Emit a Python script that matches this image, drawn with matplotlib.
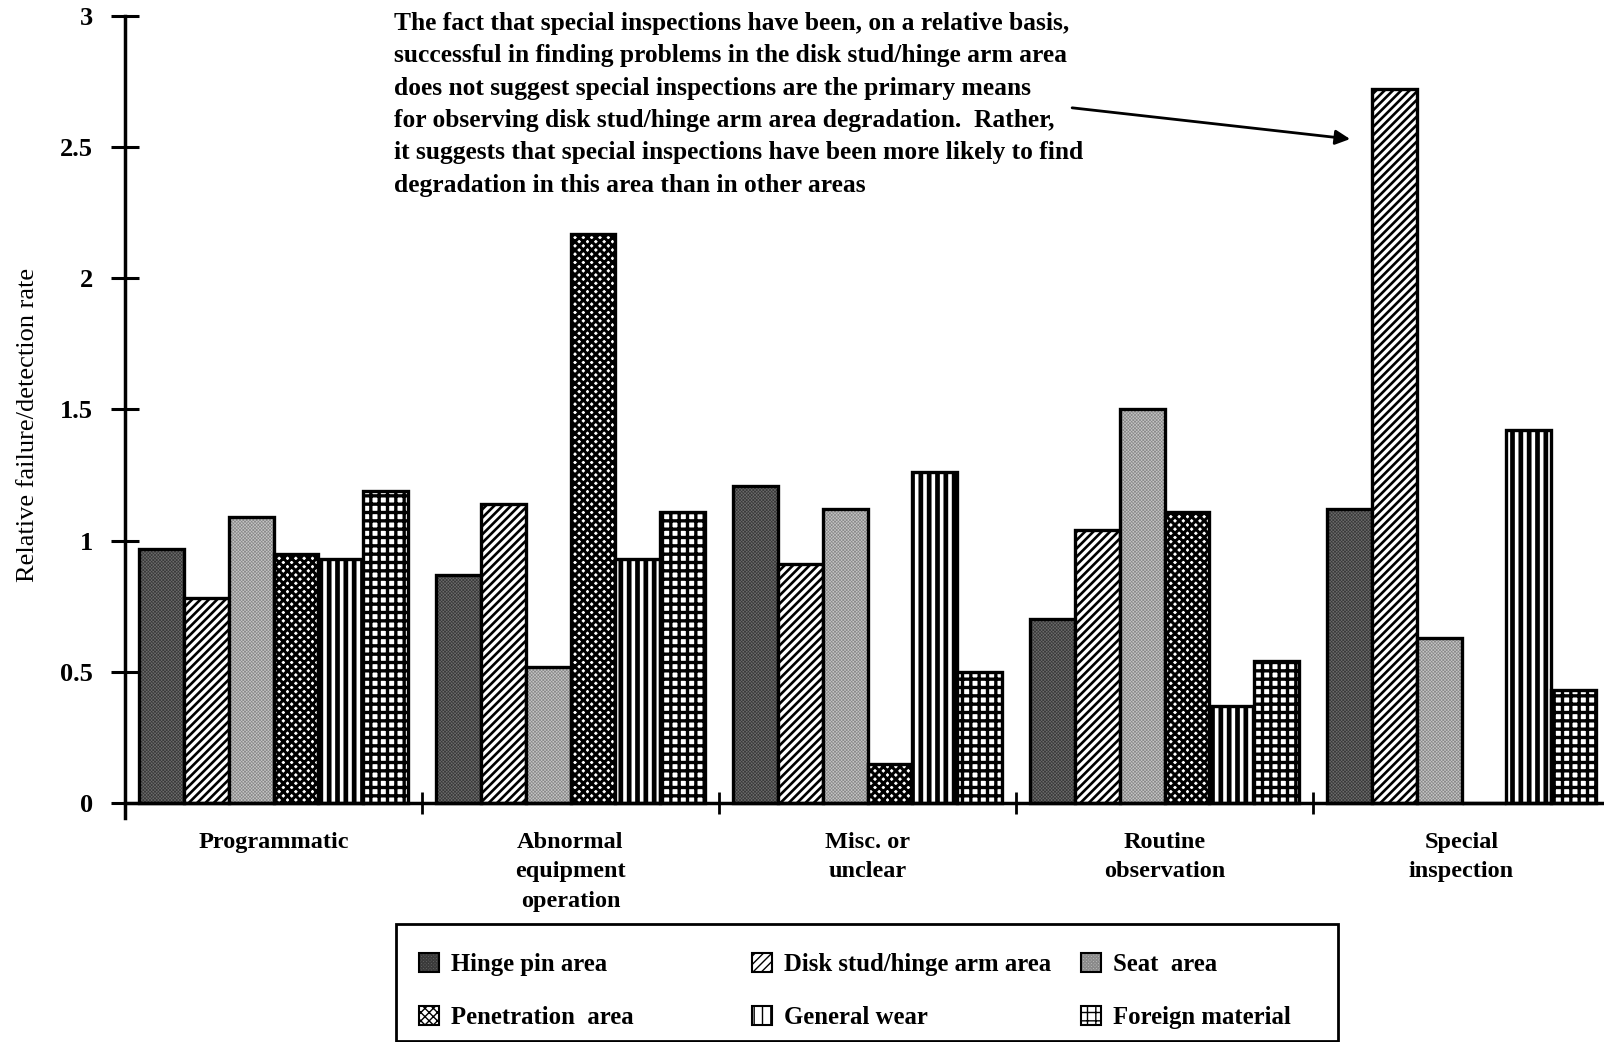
import matplotlib
matplotlib.use("Agg")
import matplotlib.pyplot as plt
from matplotlib.patches import Patch, Rectangle
import numpy as np

# -----------------------------
# Data
# -----------------------------
causes = ["Programmatic", "Abnormal\nequipment\noperation", "Misc. or\nunclear",
          "Routine\nobservation", "Special\ninspection"]
areas = ["Hinge pin area", "Disk stud/hinge arm area", "Seat  area",
         "Penetration  area", "General wear", "Foreign material"]

hinge_pin = [0.97, 0.87, 1.21, 0.70, 1.12]
disk_stud = [0.78, 1.14, 0.91, 1.04, 2.72]
seat_area = [1.09, 0.52, 1.12, 1.50, 0.63]
penetration = [0.95, 2.17, 0.15, 1.11, 0.0]
general_wear = [0.93, 0.93, 1.26, 0.37, 1.42]
foreign_material = [1.19, 1.11, 0.50, 0.54, 0.43]

yticks = [0, 0.5, 1, 1.5, 2, 2.5, 3]
ytick_labels = ["0", "0.5", "1", "1.5", "2", "2.5", "3"]

note = ("The fact that special inspections have been, on a relative basis,\n"
        "successful in finding problems in the disk stud/hinge arm area\n"
        "does not suggest special inspections are the primary means\n"
        "for observing disk stud/hinge arm area degradation.  Rather,\n"
        "it suggests that special inspections have been more likely to find\n"
        "degradation in this area than in other areas")

# -----------------------------
# Styles: fill, hatch, hatch colour, hatch line width
# -----------------------------
styles = [
    ("#6c6c6c", "xxxxxxxxxx", "#3a3a3a", 0.5),
    ("white", "////", "black", 1.9),
    ("#c6c6c6", "xxxxxxxxxx", "#8a8a8a", 0.5),
    ("white", "xxxx", "black", 2.2),
    ("white", "||", "black", 3.4),
    ("white", "++", "black", 2.4),
]

plt.rcParams["font.family"] = ["Liberation Serif", "DejaVu Serif"]

W, H = 1604, 1042
fig = plt.figure(figsize=(W / 100, H / 100), dpi=100)
ax = fig.add_axes([125 / W, (H - 818) / H, (W - 125) / W, 802 / H])

series = [hinge_pin, disk_stud, seat_area, penetration, general_wear, foreign_material]
x = np.arange(len(causes)) + 0.5
width = 0.151

for i, (vals, (fc, hatch, hc, hlw)) in enumerate(zip(series, styles)):
    pos = x + (i - 2.5) * width
    with plt.rc_context({"hatch.linewidth": hlw}):
        bars = ax.bar(pos, vals, width, color=fc, edgecolor=hc, hatch=hatch, linewidth=0)
    for b in bars:
        if hasattr(b, "set_hatch_linewidth"):
            b.set_hatch_linewidth(hlw)
    ax.bar(pos, vals, width, fill=False, edgecolor="black", linewidth=2.4)

ax.set_xlim(0, (W - 125) / 297)
ax.set_ylim(-15 / 262.3, 3)

for s in ["top", "right"]:
    ax.spines[s].set_visible(False)
ax.spines["bottom"].set_position(("data", 0))
ax.spines["left"].set_linewidth(2.5)
ax.spines["bottom"].set_linewidth(2.5)

ax.set_yticks(yticks)
ax.set_yticklabels(ytick_labels, fontsize=19, fontweight="bold")
ax.tick_params(axis="y", direction="inout", length=20, width=2.2, pad=13)

ax.set_xticks([1, 2, 3, 4])
ax.set_xticklabels([])
ax.tick_params(axis="x", which="major", direction="inout", length=16, width=2)
ax.set_xticks(x, minor=True)
ax.set_xticklabels(causes, minor=True, fontsize=17.5, fontweight="bold", linespacing=1.52)
ax.tick_params(axis="x", which="minor", length=0, pad=21)

ax.set_ylabel("Relative failure/detection rate", fontsize=19)
ax.yaxis.set_label_coords(-0.058, 0.49)

# annotation
fig.text(394 / W, 1 - 12 / H, note, ha="left", va="top", fontsize=18.4,
         fontweight="bold", linespacing=1.52)
ax.annotate("", xy=(4.125, 2.531), xytext=(3.189, 2.650),
            arrowprops=dict(arrowstyle="-|>", color="black", lw=2, mutation_scale=22,
                            shrinkA=0, shrinkB=0),
            annotation_clip=False)

# legend: framed box with three fixed columns
fig.add_artist(Rectangle((396 / W, 1 / H), 942 / W, 117 / H, transform=fig.transFigure,
                         fill=False, edgecolor="black", linewidth=2))
handles = []
for fc, hatch, hc, hlw in styles:
    with plt.rc_context({"hatch.linewidth": min(hlw, 1.5)}):
        swatch = Patch(facecolor=fc, edgecolor=hc, hatch=hatch, linewidth=0)
    handles.append((swatch, Patch(fill=False, edgecolor="black", linewidth=1.5)))

col_x = [419, 752, 1081]
for c in range(3):
    fig.legend(handles=[handles[c], handles[c + 3]], labels=[areas[c], areas[c + 3]],
               loc="center left", bbox_to_anchor=(col_x[c] / W, 1 - 991 / H),
               frameon=False, borderpad=0, borderaxespad=0, handlelength=0.8,
               handleheight=0.8, handletextpad=0.5, labelspacing=1.2,
               prop={"family": "Liberation Serif", "weight": "bold", "size": 17.8})

fig.savefig("out.png", dpi=100)
